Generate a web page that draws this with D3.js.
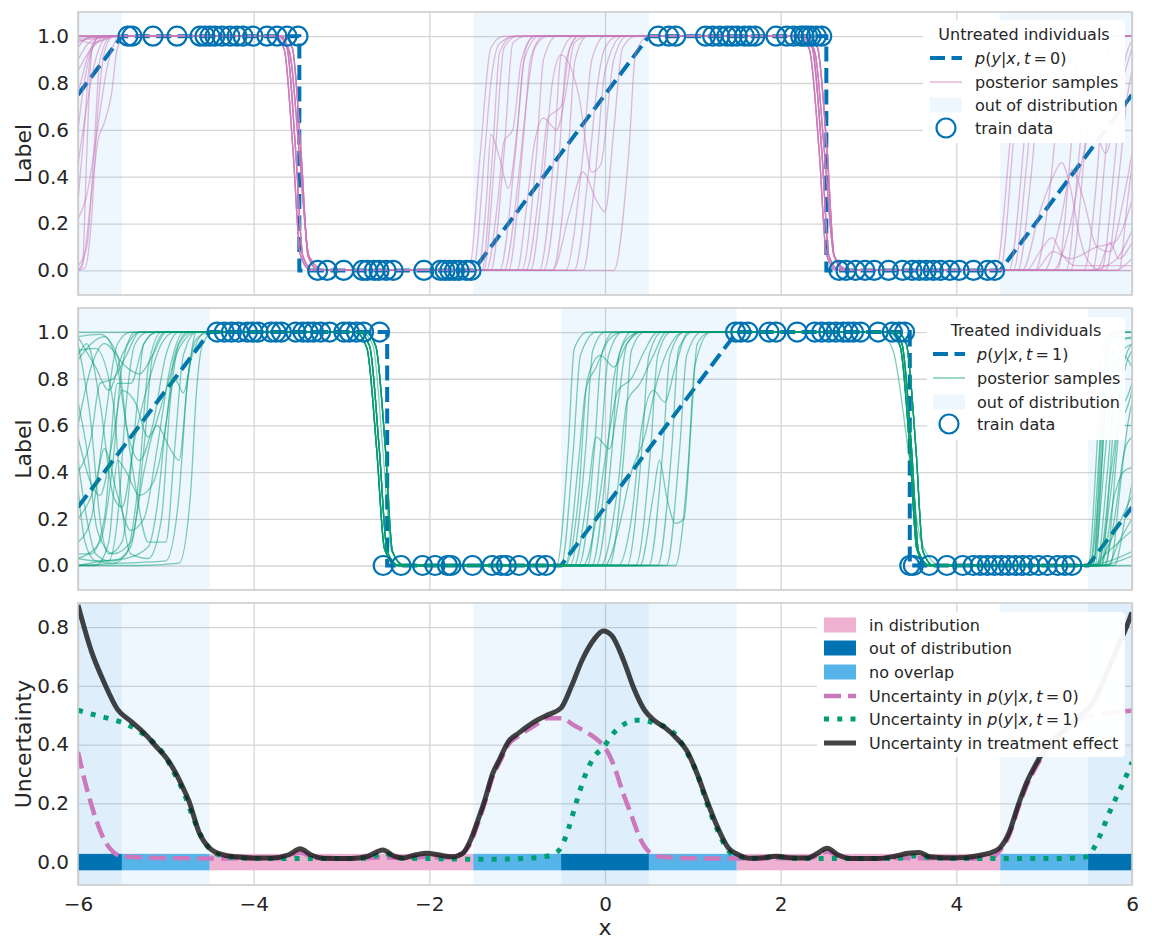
<!DOCTYPE html>
<html>
<head>
<meta charset="utf-8">
<script src="https://cdn.jsdelivr.net/npm/d3@7"></script>
<style>
  body { margin: 0; background: #fff; }
  svg { display: block; font-family: "DejaVu Sans", sans-serif; }
</style>
</head>
<body>
<div id="chart"></div>
<script>
// ---- data ----
const xTicks = [-6, -4, -2, 0, 2, 4, 6];
const labelTicks = [0, 0.2, 0.4, 0.6, 0.8, 1.0];
const uncTicks = [0, 0.2, 0.4, 0.6, 0.8];

// out of distribution stretches
const oodT0 = [[-6, -5.5], [-1.5, 0.5], [4.5, 6]];
const oodT1 = [[-6, -4.5], [-0.5, 1.5], [5.5, 6]];

// band along y = 0 in the bottom panel
const bandEdges = [-6, -5.5, -4.5, -1.5, -0.5, 0.5, 1.5, 4.5, 5.5, 6];
const bandKind = ["ood", "none", "in", "none", "ood", "none", "in", "none", "ood"];

// ground truth p(y|x,t)
const truthT0 = [[-6, 0.75], [-5.5, 1], [-3.48, 1], [-3.48, 0], [-1.5, 0], [0.5, 1], [2.52, 1], [2.52, 0], [4.5, 0], [6, 0.75]];
const truthT1 = [[-6, 0.25], [-4.5, 1], [-2.48, 1], [-2.48, 0], [-0.5, 0], [1.5, 1], [3.47, 1], [3.47, 0], [5.5, 0], [6, 0.25]];

// train data
const trainT0One = [-5.431, -5.385, -5.146, -4.873, -4.611, -4.554, -4.497, -4.44, -4.36, -4.269, -4.19, -4.121, -4.008, -3.848, -3.734, -3.62, -3.495,
  0.605, 0.725, 0.805, 1.145, 1.226, 1.306, 1.387, 1.446, 1.506, 1.587, 1.646, 1.707, 1.947, 2.068, 2.148, 2.228, 2.268, 2.308, 2.349, 2.408, 2.468];
const trainT0Zero = [-3.271, -3.163, -2.975, -2.761, -2.706, -2.627, -2.572, -2.492, -2.411, -2.062, -1.874, -1.82, -1.767, -1.713, -1.66, -1.579, -1.525,
  2.664, 2.744, 2.852, 2.96, 3.066, 3.228, 3.388, 3.497, 3.578, 3.657, 3.738, 3.819, 3.926, 4.033, 4.195, 4.355, 4.436];
const trainT1One = [-4.416, -4.334, -4.253, -4.172, -4.07, -4.009, -3.948, -3.806, -3.745, -3.684, -3.521, -3.439, -3.379, -3.318, -3.237, -3.135, -2.973, -2.911, -2.83, -2.748, -2.566,
  1.487, 1.546, 1.627, 1.867, 1.948, 2.188, 2.389, 2.468, 2.549, 2.629, 2.71, 2.769, 2.829, 2.91, 3.111, 3.271, 3.351, 3.411];
const trainT1Zero = [-2.525, -2.321, -2.077, -1.935, -1.793, -1.752, -1.508, -1.285, -1.182, -1.122, -0.979, -0.755, -0.674,
  3.47, 3.511, 3.691, 3.892, 4.073, 4.192, 4.273, 4.353, 4.434, 4.514, 4.594, 4.674, 4.754, 4.835, 4.935, 5.036, 5.155, 5.236, 5.316];

// posterior samples, t = 0: knots in each stretch
const t0Left = [
  [[-6, 1], [-5.4, 1]],
  [[-6, 0.99], [-5.85, 0.97], [-5.6, 0.995], [-5.4, 1]],
  [[-6, 0.9], [-5.88, 0.97], [-5.7, 1]],
  [[-6, 0.85], [-5.9, 0.92], [-5.75, 0.98], [-5.55, 1]],
  [[-6, 0.6], [-5.93, 0.8], [-5.82, 0.96], [-5.65, 1]],
  [[-6, 0.3], [-5.94, 0.55], [-5.87, 0.88], [-5.78, 0.99], [-5.65, 1]],
  [[-6, 0], [-5.95, 0.02], [-5.9, 0.5], [-5.84, 0.95], [-5.74, 1]],
  [[-6, 0], [-5.94, 0.04], [-5.84, 0.35], [-5.77, 0.56], [-5.7, 0.63], [-5.62, 0.75], [-5.55, 0.95], [-5.45, 1]],
  [[-6, 0.22], [-5.9, 0.32], [-5.8, 0.55], [-5.66, 0.88], [-5.52, 1]],
  [[-6, 0.97], [-5.8, 1]],
  [[-6, 1], [-5.4, 1]],
  [[-6, 0.95], [-5.9, 0.99], [-5.7, 1]],
  [[-6, 1], [-5.4, 1]],
  [[-6, 0.75], [-5.9, 0.9], [-5.78, 0.99], [-5.6, 1]],
  [[-6, 0], [-5.92, 0.01], [-5.85, 0.2], [-5.78, 0.65], [-5.7, 0.93], [-5.6, 1]],
  [[-6, 1], [-5.4, 1]],
  [[-6, 0.98], [-5.8, 0.99], [-5.5, 1]],
  [[-6, 0.45], [-5.9, 0.7], [-5.8, 0.9], [-5.65, 1]],
  [[-6, 1], [-5.4, 1]],
  [[-6, 0.02], [-5.9, 0.1], [-5.82, 0.5], [-5.75, 0.9], [-5.62, 1]],
  [[-6, 0.99], [-5.4, 1]],
  [[-6, 1], [-5.4, 1]]
];
const t0DropA = [
  [[-3.72, 1], [-3.62, 0.95], [-3.52, 0.5], [-3.44, 0.06], [-3.32, 0]],
  [[-3.66, 1], [-3.56, 0.95], [-3.46, 0.5], [-3.38, 0.06], [-3.26, 0]],
  [[-3.75, 1], [-3.65, 0.94], [-3.55, 0.5], [-3.47, 0.07], [-3.35, 0]],
  [[-3.7, 1], [-3.59, 0.93], [-3.48, 0.5], [-3.37, 0.06], [-3.2, 0]]
];
const t0Mid = [
  [[-1.55, 0], [-1.42, 0.5], [-1.3, 0.95], [-1.15, 1]],
  [[-1.5, 0], [-1.37, 0.5], [-1.3, 0.8], [-1.2, 0.97], [-1.0, 1]],
  [[-1.45, 0], [-1.35, 0.3], [-1.3, 0.58], [-1.2, 0.48], [-1.1, 0.35], [-1.0, 0.6], [-0.9, 0.95], [-0.8, 1]],
  [[-1.4, 0], [-1.28, 0.5], [-1.2, 0.93], [-1.05, 1]],
  [[-1.38, 0], [-1.25, 0.5], [-1.15, 0.95], [-1.0, 1]],
  [[-1.35, 0], [-1.22, 0.3], [-1.15, 0.55], [-1.05, 0.6], [-0.95, 0.9], [-0.8, 1]],
  [[-1.3, 0], [-1.15, 0.5], [-1.05, 0.97], [-0.9, 1]],
  [[-1.2, 0], [-1.02, 0.5], [-0.92, 0.9], [-0.75, 1]],
  [[-1.15, 0], [-0.97, 0.45], [-0.9, 0.7], [-0.8, 0.95], [-0.65, 1]],
  [[-1.1, 0], [-0.92, 0.6], [-0.85, 0.9], [-0.7, 1]],
  [[-0.95, 0], [-0.78, 0.5], [-0.7, 0.9], [-0.55, 1]],
  [[-0.9, 0], [-0.73, 0.4], [-0.65, 0.65], [-0.5, 0.7], [-0.4, 0.95], [-0.3, 1]],
  [[-0.75, 0], [-0.58, 0.5], [-0.5, 0.92], [-0.35, 1]],
  [[-0.7, 0], [-0.52, 0.5], [-0.44, 0.9], [-0.3, 1]],
  [[-1.0, 0], [-0.9, 0.25], [-0.8, 0.55], [-0.7, 0.65], [-0.55, 0.6], [-0.45, 0.75], [-0.35, 0.97], [-0.2, 1]],
  [[-0.6, 0], [-0.42, 0.5], [-0.34, 0.9], [-0.2, 1]],
  [[-0.85, 0], [-0.7, 0.4], [-0.6, 0.8], [-0.5, 0.92], [-0.3, 0.75], [-0.15, 0.42], [-0.05, 0.45], [0.1, 0.9], [0.25, 1]],
  [[-0.45, 0], [-0.25, 0.5], [-0.15, 0.9], [0.0, 1]],
  [[-0.35, 0], [-0.18, 0.45], [-0.1, 0.75], [0.0, 0.95], [0.15, 1]],
  [[-0.6, 0], [-0.4, 0.25], [-0.25, 0.42], [-0.1, 0.3], [0.0, 0.25], [0.1, 0.6], [0.2, 0.95], [0.35, 1]],
  [[0.1, 0], [0.27, 0.5], [0.35, 0.93], [0.5, 1]],
  [[-0.25, 0], [-0.1, 0.45], [0.0, 0.85], [0.2, 1]]
];
const t0DropB = [
  [[2.26, 1], [2.36, 0.95], [2.47, 0.5], [2.55, 0.06], [2.67, 0]],
  [[2.32, 1], [2.42, 0.95], [2.53, 0.5], [2.61, 0.06], [2.73, 0]],
  [[2.23, 1], [2.33, 0.94], [2.44, 0.5], [2.52, 0.07], [2.64, 0]],
  [[2.28, 1], [2.39, 0.93], [2.5, 0.5], [2.61, 0.06], [2.78, 0]]
];
const t0Right = [
  [[4.45, 0], [4.6, 0.5], [4.7, 0.95], [4.85, 1], [6, 1]],
  [[4.5, 0], [4.65, 0.55], [4.75, 0.95], [4.9, 1], [6, 1]],
  [[4.6, 0], [4.76, 0.5], [4.85, 0.92], [5.0, 1], [6, 1]],
  [[4.7, 0], [4.85, 0.4], [4.95, 0.8], [5.1, 1], [6, 1]],
  [[4.75, 0], [4.95, 0.25], [5.1, 0.4], [5.2, 0.46], [5.3, 0.35], [5.4, 0.15], [5.5, 0.04], [5.65, 0], [6, 0]],
  [[4.8, 0], [4.95, 0.08], [5.09, 0.14], [5.2, 0.07], [5.35, 0.02], [6, 0.02]],
  [[5.0, 0], [5.18, 0.2], [5.32, 0.43], [5.45, 0.3], [5.6, 0.1], [5.75, 0.08], [5.9, 0.3], [6, 0.5]],
  [[5.25, 0], [5.4, 0.5], [5.5, 0.9], [5.65, 1], [6, 1]],
  [[5.3, 0], [5.47, 0.55], [5.55, 0.9], [5.7, 1], [6, 1]],
  [[5.45, 0], [5.6, 0.4], [5.68, 0.8], [5.8, 1], [6, 1]],
  [[5.55, 0], [5.7, 0.5], [5.8, 0.9], [5.95, 1], [6, 1]],
  [[5.65, 0], [5.8, 0.45], [5.9, 0.85], [6, 0.98]],
  [[5.7, 0], [5.85, 0.4], [5.95, 0.75], [6, 0.85]],
  [[5.5, 0], [5.8, 0.04], [6, 0.17]],
  [[5.8, 0], [6, 0.05]],
  [[4.9, 0], [5.05, 0.3], [5.15, 0.65], [5.3, 0.95], [5.45, 1], [6, 1]],
  [[5.1, 0], [5.3, 0.2], [5.45, 0.5], [5.55, 0.62], [5.7, 0.5], [5.85, 0.75], [6, 0.95]],
  [[4.9, 0], [5.1, 0.08], [5.3, 0.05], [5.6, 0.1], [5.8, 0.12], [6, 0.3]],
  [[5.85, 0], [5.95, 0.3], [6, 0.45]],
  [[5.15, 0], [5.3, 0.5], [5.38, 0.9], [5.5, 1], [6, 1]],
  [[4.65, 0], [4.8, 0.45], [4.9, 0.85], [5.05, 1], [6, 1]],
  [[5.6, 0], [5.75, 0.12], [5.85, 0.05], [6, 0.12]]
];
const t0Pick = [0, 1, 2, 3, 0, 1, 2, 3, 0, 1, 2, 3, 0, 1, 2, 3, 0, 1, 2, 3, 0, 1];

// posterior samples, t = 1
const t1Left = [
  [[-6, 1], [-4.4, 1]],
  [[-6, 0.98], [-5.8, 0.85], [-5.65, 0.75], [-5.5, 0.9], [-5.3, 1], [-4.5, 1]],
  [[-6, 0.95], [-5.85, 0.6], [-5.75, 0.2], [-5.65, 0.05], [-5.5, 0.1], [-5.35, 0.6], [-5.25, 0.95], [-5.1, 1]],
  [[-6, 0.9], [-5.9, 0.95], [-5.75, 0.7], [-5.6, 0.3], [-5.5, 0.25], [-5.35, 0.55], [-5.2, 0.78], [-5.05, 0.95], [-4.9, 1]],
  [[-6, 0.45], [-5.9, 0.2], [-5.8, 0.05], [-5.65, 0.02], [-5.55, 0.2], [-5.45, 0.7], [-5.35, 0.95], [-5.2, 1]],
  [[-6, 0.33], [-5.92, 0.1], [-5.8, 0.02], [-5.6, 0.01], [-5.45, 0.05], [-5.3, 0.4], [-5.2, 0.85], [-5.05, 1]],
  [[-6, 0.03], [-5.8, 0.02], [-5.6, 0.02], [-5.4, 0.08], [-5.25, 0.5], [-5.15, 0.9], [-5.0, 1]],
  [[-6, 0], [-5.5, 0.01], [-5.0, 0.02], [-4.85, 0.3], [-4.75, 0.8], [-4.65, 0.97], [-4.5, 1]],
  [[-6, 0], [-5.3, 0], [-4.85, 0.01], [-4.72, 0.3], [-4.65, 0.75], [-4.58, 0.95], [-4.45, 1]],
  [[-6, 0.03], [-5.75, 0.1], [-5.6, 0.45], [-5.5, 0.85], [-5.35, 1], [-4.6, 1]],
  [[-6, 0.88], [-5.85, 0.95], [-5.7, 0.98], [-5.55, 0.85], [-5.45, 0.6], [-5.3, 0.45], [-5.15, 0.6], [-5.0, 0.9], [-4.85, 1]],
  [[-6, 0.6], [-5.85, 0.85], [-5.7, 0.95], [-5.45, 0.85], [-5.3, 0.82], [-5.15, 0.9], [-5.0, 1]],
  [[-6, 0.2], [-5.8, 0.35], [-5.7, 0.5], [-5.55, 0.3], [-5.4, 0.15], [-5.25, 0.2], [-5.1, 0.5], [-4.95, 0.85], [-4.8, 1]],
  [[-6, 0.05], [-5.85, 0.05], [-5.7, 0.2], [-5.55, 0.78], [-5.4, 0.78], [-5.25, 0.95], [-5.1, 1]],
  [[-6, 0.92], [-5.8, 0.93], [-5.6, 0.7], [-5.5, 0.25], [-5.4, 0.05], [-5.2, 0.03], [-5.05, 0.2], [-4.95, 0.7], [-4.85, 0.95], [-4.7, 1]],
  [[-6, 0.7], [-5.9, 0.5], [-5.78, 0.15], [-5.6, 0.05], [-5.4, 0.1], [-5.25, 0.4], [-5.1, 0.6], [-4.95, 0.5], [-4.85, 0.45], [-4.75, 0.8], [-4.65, 1]],
  [[-6, 0.4], [-5.85, 0.55], [-5.75, 0.78], [-5.6, 0.8], [-5.45, 0.9], [-5.3, 1]],
  [[-6, 0], [-5.8, 0], [-5.65, 0.1], [-5.55, 0.45], [-5.45, 0.4], [-5.3, 0.3], [-5.15, 0.35], [-5.0, 0.6], [-4.9, 0.9], [-4.75, 1]],
  [[-6, 0.55], [-5.85, 0.35], [-5.75, 0.3], [-5.6, 0.55], [-5.5, 0.75], [-5.35, 0.7], [-5.2, 0.55], [-5.0, 0.75], [-4.85, 0.93], [-4.65, 1]],
  [[-6, 0.98], [-5.75, 0.99], [-5.55, 0.9], [-5.45, 0.6], [-5.35, 0.35], [-5.2, 0.1], [-5.0, 0.1], [-4.9, 0.5], [-4.8, 0.9], [-4.65, 1]],
  [[-6, 0.1], [-5.85, 0.2], [-5.7, 0.6], [-5.55, 0.95], [-5.4, 1]],
  [[-6, 0], [-5.7, 0.02], [-5.45, 0.03], [-5.2, 0.08], [-5.1, 0.25], [-5.0, 0.6], [-4.9, 0.8], [-4.8, 0.74], [-4.7, 0.9], [-4.55, 1]]
];
const t1DropA = [
  [[-2.8, 1], [-2.68, 0.94], [-2.57, 0.5], [-2.48, 0.06], [-2.35, 0]],
  [[-2.73, 1], [-2.61, 0.94], [-2.5, 0.5], [-2.42, 0.06], [-2.29, 0]],
  [[-2.84, 1], [-2.71, 0.93], [-2.6, 0.5], [-2.51, 0.07], [-2.38, 0]],
  [[-2.77, 1], [-2.64, 0.94], [-2.53, 0.5], [-2.43, 0.06], [-2.26, 0]]
];
const t1Mid = [
  [[-0.55, 0], [-0.42, 0.5], [-0.35, 0.93], [-0.2, 1]],
  [[-0.5, 0], [-0.36, 0.5], [-0.28, 0.9], [-0.1, 1]],
  [[-0.45, 0], [-0.3, 0.45], [-0.22, 0.75], [-0.1, 0.85], [0.05, 0.97], [0.2, 1]],
  [[-0.4, 0], [-0.22, 0.5], [-0.14, 0.92], [0.0, 1]],
  [[-0.35, 0], [-0.2, 0.3], [-0.1, 0.55], [0.05, 0.5], [0.15, 0.7], [0.25, 0.95], [0.4, 1]],
  [[-0.3, 0], [-0.12, 0.5], [-0.04, 0.9], [0.1, 1]],
  [[-0.2, 0], [-0.05, 0.5], [0.04, 0.9], [0.2, 1]],
  [[-0.15, 0], [0.02, 0.45], [0.1, 0.8], [0.25, 0.97], [0.4, 1]],
  [[-0.1, 0], [0.08, 0.5], [0.16, 0.9], [0.3, 1]],
  [[-0.05, 0], [0.15, 0.35], [0.25, 0.7], [0.4, 0.78], [0.55, 0.9], [0.7, 1]],
  [[0.05, 0], [0.22, 0.5], [0.3, 0.92], [0.45, 1]],
  [[0.15, 0], [0.3, 0.2], [0.42, 0.6], [0.55, 0.75], [0.68, 0.7], [0.8, 0.85], [0.95, 1]],
  [[0.25, 0], [0.42, 0.5], [0.5, 0.9], [0.65, 1]],
  [[0.35, 0], [0.52, 0.5], [0.6, 0.9], [0.75, 1]],
  [[0.4, 0], [0.55, 0.3], [0.62, 0.45], [0.7, 0.3], [0.8, 0.18], [0.9, 0.2], [0.98, 0.6], [1.05, 0.95], [1.2, 1]],
  [[0.5, 0], [0.66, 0.5], [0.74, 0.9], [0.9, 1]],
  [[0.6, 0], [0.76, 0.5], [0.84, 0.93], [1.0, 1]],
  [[0.7, 0], [0.85, 0.5], [0.93, 0.9], [1.1, 1]],
  [[0.8, 0], [0.95, 0.45], [1.02, 0.85], [1.2, 1]],
  [[-0.25, 0], [-0.1, 0.2], [0.0, 0.45], [0.15, 0.75], [0.3, 0.8], [0.45, 0.92], [0.6, 1]],
  [[0.0, 0], [0.15, 0.15], [0.3, 0.4], [0.45, 0.55], [0.6, 0.8], [0.75, 0.95], [0.9, 1]],
  [[-0.45, 0], [-0.3, 0.3], [-0.2, 0.8], [-0.05, 0.9], [0.1, 0.85], [0.25, 0.95], [0.4, 1]]
];
const t1DropB = [
  [[3.27, 1], [3.38, 0.95], [3.49, 0.5], [3.57, 0.06], [3.69, 0]],
  [[3.32, 1], [3.43, 0.95], [3.54, 0.5], [3.62, 0.06], [3.74, 0]],
  [[3.24, 1], [3.36, 0.94], [3.47, 0.5], [3.55, 0.07], [3.67, 0]],
  [[3.12, 1], [3.28, 0.92], [3.45, 0.5], [3.6, 0.1], [3.82, 0]]
];
const t1Right = [
  [[5.5, 0], [5.6, 0.5], [5.66, 0.92], [5.75, 0.99], [5.85, 1], [6, 1]],
  [[5.52, 0], [5.63, 0.5], [5.7, 0.9], [5.8, 0.98], [6, 0.97]],
  [[5.55, 0], [5.66, 0.45], [5.73, 0.85], [5.85, 0.95], [6, 0.98]],
  [[5.55, 0], [5.7, 0.5], [5.78, 0.85], [5.9, 0.9], [6, 0.85]],
  [[5.6, 0], [5.72, 0.4], [5.8, 0.7], [5.9, 0.65], [6, 0.75]],
  [[5.62, 0], [5.76, 0.4], [5.85, 0.6], [6, 0.6]],
  [[5.65, 0], [5.8, 0.3], [5.9, 0.4], [6, 0.42]],
  [[5.6, 0], [5.75, 0.1], [5.88, 0.2], [6, 0.3]],
  [[5.55, 0], [5.7, 0.05], [5.85, 0.1], [6, 0.15]],
  [[5.6, 0], [6, 0.04]],
  [[5.5, 0], [6, 0]],
  [[5.58, 0], [5.68, 0.6], [5.74, 0.95], [5.85, 1], [6, 1]],
  [[5.7, 0], [5.82, 0.45], [5.9, 0.8], [6, 0.92]],
  [[5.75, 0], [5.87, 0.35], [5.95, 0.6], [6, 0.7]],
  [[5.52, 0], [5.62, 0.3], [5.7, 0.75], [5.8, 0.78], [5.9, 0.7], [6, 0.78]],
  [[5.8, 0], [5.92, 0.2], [6, 0.35]],
  [[5.56, 0], [5.65, 0.6], [5.72, 0.97], [5.8, 1], [6, 1]],
  [[5.65, 0], [5.78, 0.55], [5.86, 0.9], [6, 0.95]],
  [[5.5, 0], [5.75, 0.02], [6, 0.06]],
  [[5.68, 0], [5.8, 0.2], [5.92, 0.5], [6, 0.55]],
  [[5.6, 0], [5.7, 0.15], [5.8, 0.45], [5.9, 0.85], [6, 0.95]],
  [[5.72, 0], [5.85, 0.1], [6, 0.2]]
];
const t1Pick = [0, 1, 2, 0, 1, 2, 0, 1, 2, 0, 3, 1, 2, 0, 1, 2, 0, 1, 2, 0, 1, 2];

// uncertainty curves (bottom panel)
const uncT0 = [[-6, 0.375], [-5.9, 0.25], [-5.8, 0.15], [-5.7, 0.075], [-5.6, 0.035], [-5.5, 0.02], [-5.2, 0.015], [-4.8, 0.013], [-4.4, 0.012],
  [-4.0, 0.012], [-3.65, 0.014], [-3.47, 0.033], [-3.3, 0.014], [-3.0, 0.012], [-2.7, 0.013], [-2.52, 0.016], [-2.3, 0.013], [-2.03, 0.018],
  [-1.85, 0.015], [-1.7, 0.02], [-1.6, 0.035], [-1.53, 0.065], [-1.45, 0.13], [-1.37, 0.2], [-1.28, 0.29], [-1.2, 0.34], [-1.1, 0.4],
  [-0.98, 0.43], [-0.8, 0.465], [-0.66, 0.49], [-0.5, 0.49], [-0.35, 0.465], [-0.2, 0.44], [-0.1, 0.42], [0.0, 0.39], [0.1, 0.33],
  [0.2, 0.24], [0.3, 0.16], [0.4, 0.08], [0.5, 0.035], [0.6, 0.02], [0.8, 0.015], [1.2, 0.012], [1.6, 0.012], [2.0, 0.013], [2.35, 0.016],
  [2.53, 0.035], [2.7, 0.015], [3.0, 0.012], [3.4, 0.014], [3.7, 0.013], [4.2, 0.012], [4.4, 0.015], [4.5, 0.04], [4.6, 0.09], [4.7, 0.18],
  [4.8, 0.26], [4.9, 0.32], [5.0, 0.37], [5.15, 0.42], [5.3, 0.46], [5.45, 0.49], [5.6, 0.5], [5.8, 0.51], [6, 0.515]];
const uncT1 = [[-6, 0.517], [-5.8, 0.5], [-5.6, 0.485], [-5.45, 0.47], [-5.3, 0.445], [-5.15, 0.41], [-5.0, 0.357], [-4.9, 0.3], [-4.8, 0.24],
  [-4.7, 0.16], [-4.6, 0.09], [-4.5, 0.045], [-4.4, 0.025], [-4.2, 0.015], [-3.8, 0.012], [-3.4, 0.012], [-3.0, 0.012], [-2.7, 0.013],
  [-2.52, 0.03], [-2.35, 0.014], [-2.0, 0.012], [-1.6, 0.01], [-1.2, 0.01], [-0.9, 0.013], [-0.7, 0.018], [-0.6, 0.025], [-0.5, 0.05],
  [-0.42, 0.11], [-0.33, 0.2], [-0.22, 0.3], [-0.12, 0.36], [-0.02, 0.39], [0.1, 0.44], [0.22, 0.47], [0.35, 0.483], [0.48, 0.48],
  [0.6, 0.47], [0.72, 0.455], [0.84, 0.42], [0.93, 0.375], [1.05, 0.3], [1.16, 0.2], [1.28, 0.11], [1.4, 0.04], [1.5, 0.02], [1.7, 0.013],
  [1.95, 0.018], [2.2, 0.012], [2.6, 0.012], [3.0, 0.012], [3.35, 0.013], [3.55, 0.022], [3.75, 0.013], [4.2, 0.012], [4.6, 0.012],
  [5.0, 0.012], [5.4, 0.014], [5.5, 0.02], [5.57, 0.05], [5.65, 0.1], [5.73, 0.16], [5.82, 0.22], [5.9, 0.27], [6, 0.34]];
const uncEffect = [[-6, 0.875], [-5.85, 0.72], [-5.7, 0.61], [-5.55, 0.52], [-5.4, 0.48], [-5.25, 0.44], [-5.1, 0.39], [-5.0, 0.357],
  [-4.9, 0.31], [-4.8, 0.25], [-4.74, 0.21], [-4.62, 0.1], [-4.5, 0.047], [-4.35, 0.025], [-4.2, 0.018], [-4.0, 0.014], [-3.8, 0.014],
  [-3.6, 0.025], [-3.47, 0.045], [-3.35, 0.025], [-3.2, 0.013], [-2.9, 0.012], [-2.7, 0.02], [-2.53, 0.041], [-2.4, 0.02], [-2.3, 0.014],
  [-2.15, 0.025], [-2.03, 0.03], [-1.9, 0.025], [-1.75, 0.018], [-1.62, 0.03], [-1.53, 0.075], [-1.45, 0.14], [-1.37, 0.21], [-1.28, 0.3],
  [-1.2, 0.35], [-1.1, 0.41], [-0.98, 0.44], [-0.82, 0.475], [-0.66, 0.5], [-0.5, 0.525], [-0.38, 0.6], [-0.26, 0.688], [-0.12, 0.76],
  [-0.02, 0.787], [0.08, 0.77], [0.21, 0.688], [0.33, 0.59], [0.45, 0.517], [0.57, 0.48], [0.69, 0.456], [0.82, 0.42], [0.93, 0.38],
  [1.05, 0.3], [1.16, 0.21], [1.28, 0.12], [1.4, 0.05], [1.52, 0.025], [1.64, 0.013], [1.8, 0.015], [1.95, 0.02], [2.1, 0.015], [2.3, 0.014],
  [2.42, 0.03], [2.53, 0.047], [2.65, 0.025], [2.8, 0.012], [3.1, 0.012], [3.3, 0.02], [3.45, 0.03], [3.58, 0.033], [3.7, 0.018], [3.9, 0.015],
  [4.1, 0.016], [4.3, 0.025], [4.42, 0.035], [4.5, 0.05], [4.6, 0.1], [4.7, 0.19], [4.8, 0.27], [4.9, 0.33], [5.0, 0.38], [5.15, 0.43],
  [5.3, 0.47], [5.45, 0.51], [5.55, 0.54], [5.65, 0.6], [5.75, 0.67], [5.85, 0.74], [5.95, 0.81], [6, 0.85]];

// ---- drawing ----
const W = 1152, H = 951;
const col = {
  blue: "#0173b2", pink: "#cc78bc", green: "#029e73", sky: "#56b4e9",
  inDist: "#efb1d2", grid: "#d5d5d5", spine: "#cccccc", text: "#262626", effect: "#1a1a1a"
};
const FONT_TICK = 20, FONT_LABEL = 22, FONT_LEG = 16;

const svg = d3.select("#chart").append("svg").attr("width", W).attr("height", H);
const x = d3.scaleLinear().domain([-6, 6]).range([78, 1132]);

const panels = [
  { top: 12, bottom: 295, domain: [-0.105, 1.103], ticks: labelTicks, label: "Label" },
  { top: 308, bottom: 590, domain: [-0.105, 1.103], ticks: labelTicks, label: "Label" },
  { top: 603, bottom: 885, domain: [-0.078, 0.882], ticks: uncTicks, label: "Uncertainty" }
];
panels.forEach(p => { p.y = d3.scaleLinear().domain(p.domain).range([p.bottom, p.top]); });

function frame(p, i, showX) {
  const g = svg.append("g");
  const gx = g.append("g").attr("transform", `translate(0,${p.bottom})`)
    .call(d3.axisBottom(x).tickValues(xTicks).tickSize(-(p.bottom - p.top)).tickPadding(12)
      .tickFormat(showX ? d3.format("d") : ""));
  const gy = g.append("g").attr("transform", `translate(${x.range()[0]},0)`)
    .call(d3.axisLeft(p.y).tickValues(p.ticks).tickSize(-(x.range()[1] - x.range()[0])).tickPadding(9)
      .tickFormat(d3.format(".1f")));
  [gx, gy].forEach(a => {
    a.select(".domain").remove();
    a.selectAll("line").attr("stroke", col.grid).attr("stroke-width", 1.3);
    a.selectAll("text").attr("fill", col.text).attr("font-size", FONT_TICK)
      .attr("font-family", "DejaVu Sans");
  });
  svg.append("defs").append("clipPath").attr("id", "clip" + i)
    .append("rect").attr("x", x.range()[0]).attr("y", p.top)
    .attr("width", x.range()[1] - x.range()[0]).attr("height", p.bottom - p.top);
  svg.append("text").attr("transform", `translate(31,${(p.top + p.bottom) / 2}) rotate(-90)`)
    .attr("text-anchor", "middle").attr("font-size", FONT_LABEL).attr("fill", col.text).text(p.label);
  return g;
}

function shade(p, ranges) {
  svg.append("g").selectAll("rect").data(ranges).join("rect")
    .attr("x", d => x(d[0])).attr("width", d => x(d[1]) - x(d[0]))
    .attr("y", p.top).attr("height", p.bottom - p.top)
    .attr("fill", col.sky).attr("fill-opacity", 0.1);
}

function spines(p) {
  svg.append("rect").attr("x", x.range()[0]).attr("y", p.top)
    .attr("width", x.range()[1] - x.range()[0]).attr("height", p.bottom - p.top)
    .attr("fill", "none").attr("stroke", col.spine).attr("stroke-width", 1.6);
}

// mathtext-like p(y|x,t=k)
function mathText(sel, prefix, t) {
  if (prefix) sel.append("tspan").text(prefix);
  sel.append("tspan").attr("font-style", "italic").text("p");
  sel.append("tspan").text("(");
  sel.append("tspan").attr("font-style", "italic").text("y");
  sel.append("tspan").text("|");
  sel.append("tspan").attr("font-style", "italic").text("x");
  sel.append("tspan").text(",\u2009");
  sel.append("tspan").attr("font-style", "italic").text("t");
  sel.append("tspan").text("\u2009=\u2009" + t + ")");
}

function legend(box, title, items, hx, tx) {
  const g = svg.append("g");
  g.append("rect").attr("x", box[0]).attr("y", box[1]).attr("width", box[2]).attr("height", box[3])
    .attr("rx", 4).attr("fill", "#fff").attr("fill-opacity", 0.95);
  if (title) {
    g.append("text").attr("x", box[0] + box[2] / 2).attr("y", title[1]).attr("dy", "0.36em")
      .attr("text-anchor", "middle").attr("font-size", FONT_LEG).attr("fill", col.text).text(title[0]);
  }
  items.forEach(it => {
    const cy = it.y;
    if (it.kind === "patch") {
      g.append("rect").attr("x", hx).attr("y", cy - 7.5).attr("width", 32).attr("height", 15)
        .attr("fill", it.color).attr("fill-opacity", it.opacity || 1);
    } else if (it.kind === "circle") {
      g.append("circle").attr("cx", hx + 16).attr("cy", cy).attr("r", 9.5)
        .attr("fill", "none").attr("stroke", col.blue).attr("stroke-width", 2.2);
    } else {
      g.append("line").attr("x1", hx).attr("x2", hx + 32).attr("y1", cy).attr("y2", cy)
        .attr("stroke", it.color).attr("stroke-width", it.width)
        .attr("stroke-opacity", it.opacity || 1)
        .attr("stroke-dasharray", it.dash || null);
    }
    const t = g.append("text").attr("x", tx).attr("y", cy).attr("dy", "0.36em")
      .attr("font-size", FONT_LEG).attr("fill", col.text);
    if (it.math !== undefined) mathText(t, it.prefix, it.math);
    else t.text(it.label);
  });
}

function samplePaths(left, dropA, mid, dropB, right, pick) {
  return left.map((l, i) => [...l, ...dropA[pick[i]], ...mid[i], ...dropB[pick[i]], ...right[i]]);
}

function labelPanel(p, i, ood, truth, samples, color, ones, zeros, legendArgs) {
  frame(p, i, false);
  shade(p, ood);
  const g = svg.append("g").attr("clip-path", `url(#clip${i})`);
  g.append("path").datum(truth)
    .attr("d", d3.line().x(d => x(d[0])).y(d => p.y(d[1])))
    .attr("fill", "none").attr("stroke", col.blue).attr("stroke-width", 4)
    .attr("stroke-dasharray", "15,6.5");
  const smooth = d3.line().x(d => x(d[0])).y(d => p.y(d[1])).curve(d3.curveMonotoneX);
  g.selectAll("path.sample").data(samples).join("path").attr("class", "sample")
    .attr("d", smooth).attr("fill", "none").attr("stroke", color)
    .attr("stroke-width", 1.3).attr("stroke-opacity", 0.5);
  const pts = ones.map(v => [v, 1]).concat(zeros.map(v => [v, 0]));
  svg.append("g").selectAll("circle").data(pts).join("circle")
    .attr("cx", d => x(d[0])).attr("cy", d => p.y(d[1])).attr("r", 9.5)
    .attr("fill", "none").attr("stroke", col.blue).attr("stroke-width", 2.2);
  spines(p);
  legend(...legendArgs);
}

// top: untreated
labelPanel(panels[0], 0, oodT0, truthT0,
  samplePaths(t0Left, t0DropA, t0Mid, t0DropB, t0Right, t0Pick), col.pink, trainT0One, trainT0Zero,
  [[923, 20, 202, 123], ["Untreated individuals", 34], [
    { kind: "line", color: col.blue, width: 4, dash: "15,6.5", y: 58, math: 0 },
    { kind: "line", color: col.pink, width: 1.3, opacity: 0.6, y: 82, label: "posterior samples" },
    { kind: "patch", color: col.sky, opacity: 0.1, y: 105, label: "out of distribution" },
    { kind: "circle", y: 128, label: "train data" }
  ], 930, 975]);

// middle: treated
labelPanel(panels[1], 1, oodT1, truthT1,
  samplePaths(t1Left, t1DropA, t1Mid, t1DropB, t1Right, t1Pick), col.green, trainT1One, trainT1Zero,
  [[927, 317, 198, 123], ["Treated individuals", 330], [
    { kind: "line", color: col.blue, width: 4, dash: "15,6.5", y: 354, math: 1 },
    { kind: "line", color: col.green, width: 1.3, opacity: 0.6, y: 378, label: "posterior samples" },
    { kind: "patch", color: col.sky, opacity: 0.1, y: 402, label: "out of distribution" },
    { kind: "circle", y: 424, label: "train data" }
  ], 933, 977]);

// bottom: uncertainty
(function () {
  const p = panels[2];
  frame(p, 2, true);
  shade(p, oodT0);
  shade(p, oodT1);
  const bandColor = { ood: col.blue, none: col.sky, in: col.inDist };
  svg.append("g").selectAll("rect").data(bandKind).join("rect")
    .attr("x", (d, i) => x(bandEdges[i])).attr("width", (d, i) => x(bandEdges[i + 1]) - x(bandEdges[i]))
    .attr("y", p.y(0.028)).attr("height", p.y(-0.028) - p.y(0.028))
    .attr("fill", d => bandColor[d]);
  const g = svg.append("g").attr("clip-path", "url(#clip2)");
  const smooth = d3.line().x(d => x(d[0])).y(d => p.y(d[1])).curve(d3.curveMonotoneX);
  g.append("path").datum(uncT0).attr("d", smooth).attr("fill", "none")
    .attr("stroke", col.pink).attr("stroke-width", 4.5).attr("stroke-dasharray", "17,7");
  g.append("path").datum(uncT1).attr("d", smooth).attr("fill", "none")
    .attr("stroke", col.green).attr("stroke-width", 5).attr("stroke-dasharray", "5,8.25");
  g.append("path").datum(uncEffect).attr("d", smooth).attr("fill", "none")
    .attr("stroke", col.effect).attr("stroke-width", 5).attr("stroke-opacity", 0.82)
    .attr("stroke-linejoin", "round");
  spines(p);
  legend([817, 612, 308, 145], null, [
    { kind: "patch", color: col.inDist, y: 625, label: "in distribution" },
    { kind: "patch", color: col.blue, y: 648, label: "out of distribution" },
    { kind: "patch", color: col.sky, y: 672, label: "no overlap" },
    { kind: "line", color: col.pink, width: 4.5, dash: "17,7", y: 696, prefix: "Uncertainty in ", math: 0 },
    { kind: "line", color: col.green, width: 5, dash: "5,8.25", y: 719, prefix: "Uncertainty in ", math: 1 },
    { kind: "line", color: col.effect, width: 5, opacity: 0.82, y: 743, label: "Uncertainty in treatment effect" }
  ], 824, 869);
  svg.append("text").attr("x", x(0)).attr("y", 935).attr("text-anchor", "middle")
    .attr("font-size", FONT_LABEL).attr("fill", col.text).text("x");
})();
</script>
</body>
</html>
